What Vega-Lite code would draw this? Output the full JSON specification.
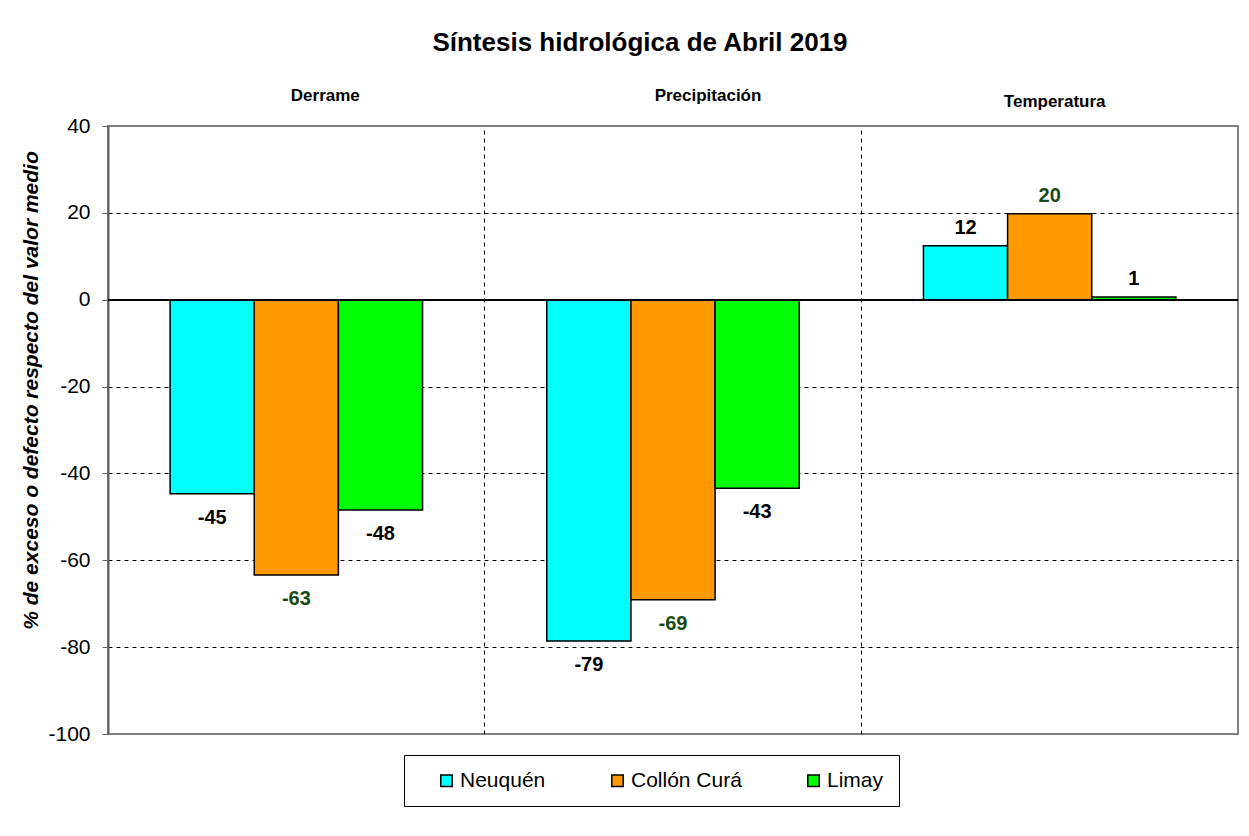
{
  "$schema": "https://vega.github.io/schema/vega-lite/v6.json",
  "width": 1130,
  "height": 608,
  "autosize": {"type": "none"},
  "padding": {"left": 108, "top": 126, "right": 11, "bottom": 102},
  "background": "white",
  "title": {
    "text": "Síntesis hidrológica de Abril 2019",
    "font": "Liberation Sans",
    "fontSize": 26,
    "fontWeight": "bold",
    "color": "black",
    "anchor": "middle",
    "dx": -33,
    "offset": 30
  },
  "data": {
    "values": [
      {"variable": "Derrame", "cuenca": "Neuquén", "valor": -44.7},
      {"variable": "Derrame", "cuenca": "Collón Curá", "valor": -63.4},
      {"variable": "Derrame", "cuenca": "Limay", "valor": -48.4},
      {"variable": "Precipitación", "cuenca": "Neuquén", "valor": -78.6},
      {"variable": "Precipitación", "cuenca": "Collón Curá", "valor": -69.1},
      {"variable": "Precipitación", "cuenca": "Limay", "valor": -43.4},
      {"variable": "Temperatura", "cuenca": "Neuquén", "valor": 12.4},
      {"variable": "Temperatura", "cuenca": "Collón Curá", "valor": 19.8},
      {"variable": "Temperatura", "cuenca": "Limay", "valor": 0.6}
    ]
  },
  "encoding": {
    "x": {
      "field": "variable",
      "type": "nominal",
      "sort": ["Derrame", "Precipitación", "Temperatura"],
      "scale": {"paddingInner": 0, "paddingOuter": 0},
      "axis": {
        "orient": "top",
        "title": null,
        "labelAngle": 0,
        "labelFont": "Liberation Sans",
        "labelFontSize": 17,
        "labelFontWeight": "bold",
        "labelColor": "black",
        "labelPadding": {
          "condition": [
            {"test": "datum.value === 'Temperatura'", "value": 16}
          ],
          "value": 22
        },
        "labelOffset": {
          "condition": [
            {"test": "datum.value === 'Derrame'", "value": 29},
            {"test": "datum.value === 'Precipitación'", "value": 35}
          ],
          "value": 5
        },
        "ticks": false,
        "domain": false,
        "grid": true,
        "gridColor": "black",
        "gridDash": [4, 4],
        "gridWidth": 1,
        "gridOpacity": {
          "condition": {"test": "datum.value === 'Derrame'", "value": 0},
          "value": 1
        },
        "bandPosition": 0
      }
    },
    "xOffset": {
      "field": "cuenca",
      "type": "nominal",
      "sort": ["Neuquén", "Collón Curá", "Limay"],
      "scale": {"paddingInner": 0, "paddingOuter": 0.738}
    },
    "y": {
      "field": "valor",
      "type": "quantitative",
      "scale": {"domain": [-100, 40], "nice": false, "zero": false},
      "axis": {
        "title": "% de exceso o defecto respecto del valor medio",
        "titleFont": "Liberation Sans",
        "titleFontSize": 21,
        "titleFontWeight": "bold",
        "titleFontStyle": "italic",
        "titleColor": "black",
        "titlePadding": 6,
        "titleY": 264,
        "values": [-100, -80, -60, -40, -20, 0, 20, 40],
        "labelFont": "Liberation Sans",
        "labelFontSize": 21,
        "labelColor": "black",
        "labelPadding": 12,
        "tickSize": 6,
        "tickColor": "#606060",
        "domainColor": "#606060",
        "domainWidth": 2,
        "grid": true,
        "gridColor": "black",
        "gridDash": [4, 4],
        "gridWidth": 1,
        "gridOpacity": {
          "condition": {"test": "datum.value === 40 || datum.value === -100 || datum.value === 0", "value": 0},
          "value": 1
        }
      }
    }
  },
  "layer": [
    {
      "mark": {"type": "bar", "stroke": "black", "strokeWidth": 1.5},
      "encoding": {
        "color": {
          "field": "cuenca",
          "type": "nominal",
          "sort": ["Neuquén", "Collón Curá", "Limay"],
          "scale": {
            "domain": ["Neuquén", "Collón Curá", "Limay"],
            "range": ["#00FFFF", "#FF9900", "#00FF00"]
          },
          "legend": {
            "title": null,
            "orient": "none",
            "legendX": 296,
            "legendY": 629,
            "direction": "horizontal",
            "strokeColor": "black",
            "fillColor": "white",
            "padding": 15,
            "columnPadding": 44,
            "symbolType": "square",
            "symbolSize": 130,
            "symbolOffset": 17,
            "symbolStrokeColor": "black",
            "symbolStrokeWidth": 1.5,
            "symbolOpacity": 1,
            "labelFont": "Liberation Sans",
            "labelFontSize": 21,
            "labelColor": "black",
            "labelOffset": 3
          }
        }
      }
    },
    {
      "mark": {"type": "rule", "color": "black", "strokeWidth": 1.5},
      "encoding": {"y": {"datum": 0}, "x": null, "xOffset": null}
    },
    {
      "transform": [{"filter": "datum.valor < 0"}],
      "mark": {
        "type": "text",
        "font": "Liberation Sans",
        "fontSize": 20,
        "fontWeight": "bold",
        "baseline": "top",
        "dy": 14
      },
      "encoding": {
        "text": {"field": "valor", "type": "quantitative", "format": ".0f"},
        "color": {
          "condition": {"test": "datum.cuenca === 'Collón Curá'", "value": "#1A4A14"},
          "value": "black"
        }
      }
    },
    {
      "transform": [{"filter": "datum.valor >= 0"}],
      "mark": {
        "type": "text",
        "font": "Liberation Sans",
        "fontSize": 20,
        "fontWeight": "bold",
        "baseline": "bottom",
        "dy": -8
      },
      "encoding": {
        "text": {"field": "valor", "type": "quantitative", "format": ".0f"},
        "color": {
          "condition": {"test": "datum.cuenca === 'Collón Curá'", "value": "#1A4A14"},
          "value": "black"
        }
      }
    }
  ],
  "config": {
    "view": {"stroke": "#808080", "strokeWidth": 2},
    "locale": {
      "number": {
        "decimal": ".",
        "thousands": ",",
        "grouping": [3],
        "currency": ["", ""],
        "minus": "-"
      }
    }
  }
}
